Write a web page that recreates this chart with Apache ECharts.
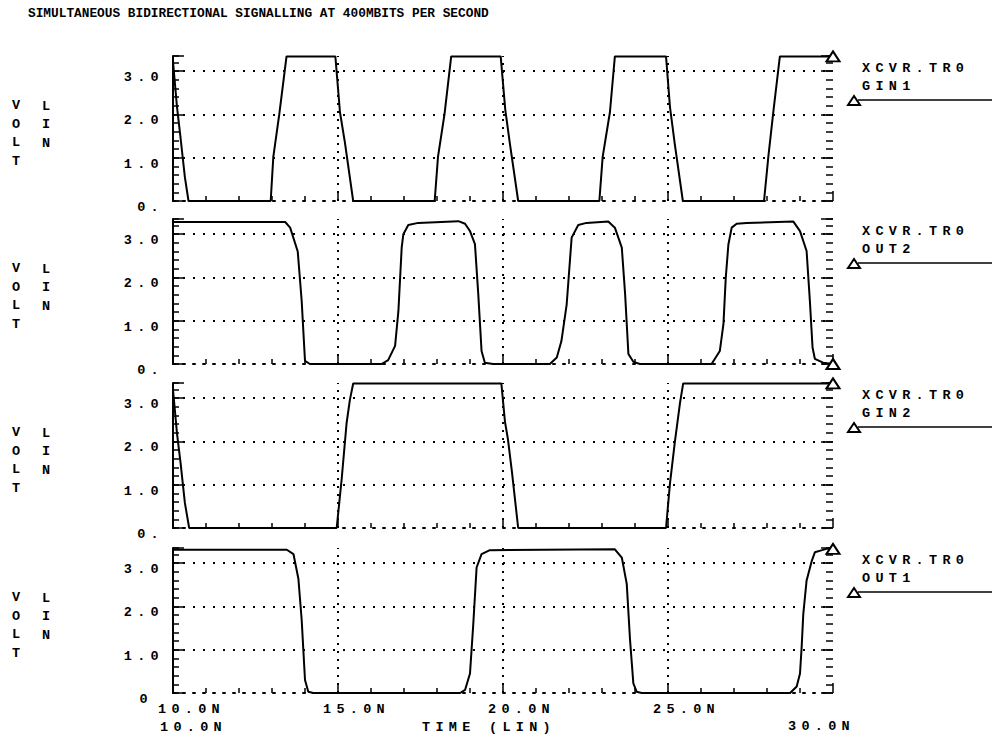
<!DOCTYPE html>
<html>
<head>
<meta charset="utf-8">
<script src="https://cdn.jsdelivr.net/npm/echarts@6/dist/echarts.min.js"></script>
<style>
html,body{margin:0;padding:0;background:#fff;}
#chart{width:992px;height:736px;}
/* plotter-style wide character spacing for axis/annotation text */
#chart text[style*="13.5px"]{letter-spacing:5.3px;}
</style>
</head>
<body>
<div id="chart"></div>
<script>
// ---------------- data ----------------
const chartTitle = 'SIMULTANEOUS BIDIRECTIONAL SIGNALLING AT 400MBITS PER SECOND';
const nodePrefix = 'XCVR.TR0';
const seriesNames = ['GIN1', 'OUT2', 'GIN2', 'OUT1'];
const timeRange = [10, 30];            // ns
const timeTickValues = [10, 15, 20, 25];
const timeTickLabels = ['10.0N', '15.0N', '20.0N', '25.0N'];
const timeEndLabels = ['10.0N', '30.0N'];
const timeTitle = 'TIME (LIN)';
const voltTickValues = [0, 1, 2, 3];
const voltTickLabels = ['0.', '1.0', '2.0', '3.0'];
const voltTickLabelsBottom = ['0', '1.0', '2.0', '3.0'];
const voltUnit = 'VOLT';
const voltScale = 'LIN';
const voltMax = 3.35;
const gridVolts = [1, 2, 3];
const gridTimes = [15, 20, 25];

const gin1T = [10.0, 10.12, 10.23, 10.36, 10.47, 12.96, 13.04, 13.22, 13.44, 14.92, 15.06, 15.21, 15.46,
  17.93, 18.03, 18.23, 18.43, 19.93, 20.07, 20.21, 20.46, 22.92, 23.02, 23.24, 23.39, 24.94, 25.06, 25.21, 25.45,
  27.91, 28.04, 28.19, 28.39, 30.0];
const gin1V = [3.22, 2.18, 1.45, 0.55, 0, 0, 1.02, 2.0, 3.34, 3.34, 2.05, 1.35, 0,
  0, 1.02, 2.02, 3.34, 3.34, 2.1, 1.32, 0, 0, 1.02, 2.05, 3.34, 3.34, 2.17, 1.29, 0,
  0, 1.02, 2.05, 3.34, 3.34];

const out2T = [10.0, 13.4, 13.55, 13.78, 13.9, 14.0, 14.15, 16.32, 16.52, 16.73, 16.83, 16.93, 16.98, 17.13, 17.43,
  18.65, 18.85, 19.0, 19.15, 19.25, 19.35, 19.45, 19.7, 21.42, 21.63, 21.77, 21.93, 22.08, 22.28, 22.53,
  23.19, 23.39, 23.6, 23.7, 23.8, 23.95, 24.15, 26.32, 26.57, 26.68, 26.75, 26.83, 26.93, 27.08, 27.38,
  28.8, 29.0, 29.2, 29.3, 29.38, 29.45, 29.7, 30.0];
const out2V = [3.28, 3.28, 3.15, 2.6, 1.45, 0.07, 0, 0, 0.09, 0.42, 1.22, 2.69, 3.0, 3.21, 3.26,
  3.3, 3.24, 3.07, 2.77, 1.62, 0.3, 0.03, 0, 0, 0.15, 0.53, 1.38, 2.92, 3.21, 3.26,
  3.29, 3.15, 2.69, 1.62, 0.23, 0.05, 0, 0, 0.3, 0.92, 1.99, 2.76, 3.15, 3.24, 3.26,
  3.29, 3.07, 2.61, 1.45, 0.38, 0.12, 0.03, 0];

const gin2T = [10.0, 10.12, 10.23, 10.36, 10.49, 14.96, 15.11, 15.26, 15.36, 15.46,
  19.95, 20.06, 20.15, 20.27, 20.46, 24.94, 25.06, 25.21, 25.36, 25.46, 30.0];
const gin2V = [3.2, 2.19, 1.5, 0.58, 0, 0, 1.12, 2.42, 2.96, 3.34,
  3.34, 2.45, 2.05, 1.3, 0, 0, 1.03, 2.0, 2.87, 3.34, 3.34];

const out1T = [10.0, 13.45, 13.65, 13.8, 13.9, 14.0, 14.1, 14.25, 18.7, 18.85, 19.0, 19.1, 19.2, 19.35, 19.6,
  23.39, 23.6, 23.75, 23.85, 23.95, 24.05, 24.2, 28.7, 28.9, 29.0, 29.05, 29.1, 29.2, 29.36, 29.45, 29.67, 29.8, 30.0];
const out1V = [3.31, 3.31, 3.21, 2.64, 1.68, 0.3, 0.03, 0, 0, 0.07, 0.45, 1.6, 2.9, 3.21, 3.3,
  3.32, 3.13, 2.52, 1.22, 0.22, 0.03, 0, 0, 0.15, 0.45, 1.06, 1.83, 2.6, 3.06, 3.25, 3.3, 3.33, 3.33];

// ---------------- layout / style ----------------
const FONT = "'Liberation Mono', 'DejaVu Sans Mono', monospace";
const WIDE = 13.5;
const gridLeft = 173, gridRight = 159, gridH = 145;
const gridTops = [56, 219, 383, 548];
const W = 992;

const panels = [
  { name: seriesNames[0], t: gin1T, v: gin1V },
  { name: seriesNames[1], t: out2T, v: out2V },
  { name: seriesNames[2], t: gin2T, v: gin2V },
  { name: seriesNames[3], t: out1T, v: out1V }
];
const zip = (t, v) => t.map((x, i) => [x, v[i]]);
const BLACK = '#000';
const wideFont = { fontFamily: FONT, fontSize: WIDE, fontWeight: 'bold', color: BLACK };

const grids = gridTops.map(top => ({
  left: gridLeft, right: gridRight, top: top, height: gridH,
  containLabel: false, outerBoundsMode: 'none'
}));

const xAxes = gridTops.map((_, i) => {
  const last = i === gridTops.length - 1;
  return {
    type: 'value', gridIndex: i, min: timeRange[0], max: timeRange[1], interval: 5,
    axisLine: { show: true, onZero: false, lineStyle: { color: BLACK, width: 2, type: [2, 8] } },
    axisTick: { show: true, inside: true, length: 10, lineStyle: { color: BLACK, width: 1.5 } },
    minorTick: { show: true, splitNumber: 5, length: 5, lineStyle: { color: BLACK, width: 1.5 } },
    splitLine: { show: false },
    axisLabel: last ? Object.assign({
      show: true, margin: 9, align: 'left', padding: [0, 0, 0, -15],
      showMinLabel: true, showMaxLabel: true,
      formatter: v => { const k = timeTickValues.indexOf(v); return k >= 0 ? timeTickLabels[k] : ''; }
    }, wideFont) : { show: false },
    name: last ? timeTitle : '',
    nameLocation: 'middle', nameGap: 27,
    nameTextStyle: Object.assign({ padding: [0, 28, 0, 0] }, wideFont)
  };
});

const yAxes = [];
gridTops.forEach((_, i) => {
  const bottomPanel = i === gridTops.length - 1;
  const labels = bottomPanel ? voltTickLabelsBottom : voltTickLabels;
  const base = { type: 'value', gridIndex: i, min: 0, max: voltMax, splitLine: { show: false } };
  // left major
  yAxes.push(Object.assign({}, base, {
    position: 'left', interval: 1,
    axisLine: { show: true, onZero: false, lineStyle: { color: BLACK, width: 2 } },
    axisTick: { show: true, inside: true, length: 11, lineStyle: { color: BLACK, width: 1.5 } },
    axisLabel: Object.assign({
      show: true, margin: 9, verticalAlign: 'top', lineHeight: 13,
      showMinLabel: true, showMaxLabel: true,
      rich: { z: Object.assign({ padding: [0, 11, 0, 0], lineHeight: 13 }, wideFont) },
      formatter: v => {
        const k = voltTickValues.indexOf(v);
        if (k < 0) return '';
        return (bottomPanel && k === 0) ? '{z|' + labels[k] + '}' : labels[k];
      }
    }, wideFont)
  }));
  // left minor
  yAxes.push(Object.assign({}, base, {
    position: 'left', interval: 0.2,
    axisLine: { show: false, onZero: false },
    axisTick: { show: true, inside: true, length: 6, lineStyle: { color: BLACK, width: 1.5 } },
    axisLabel: { show: false }
  }));
  // right major
  yAxes.push(Object.assign({}, base, {
    position: 'right', interval: 1,
    axisLine: { show: false, onZero: false },
    axisTick: { show: true, inside: true, length: 12, lineStyle: { color: BLACK, width: 1.5 } },
    axisLabel: { show: false }
  }));
  // right minor
  yAxes.push(Object.assign({}, base, {
    position: 'right', interval: 0.2,
    axisLine: { show: false, onZero: false },
    axisTick: { show: true, inside: true, length: 7, lineStyle: { color: BLACK, width: 1.5 } },
    axisLabel: { show: false }
  }));
});

const series = panels.map((p, i) => {
  const data = zip(p.t, p.v);
  return {
    type: 'line', name: nodePrefix + ' ' + p.name,
    xAxisIndex: i, yAxisIndex: 4 * i,
    data: data, symbol: 'none', silent: true, animation: false,
    lineStyle: { color: BLACK, width: 2 },
    markLine: {
      silent: true, animation: false, symbol: ['none', 'none'], label: { show: false },
      lineStyle: { color: BLACK, width: 2, type: [2, 8] },
      emphasis: { disabled: true },
      data: gridVolts.map(y => ({ yAxis: y }))
        .concat(gridTimes.map(x => ({ xAxis: x, lineStyle: { color: BLACK, width: 2, type: [2, 6] } })))
    },
    markPoint: {
      silent: true, animation: false, symbol: 'triangle', symbolSize: [13, 10],
      itemStyle: { color: '#fff', borderColor: BLACK, borderWidth: 2 },
      label: { show: false },
      data: [{ coord: data[data.length - 1] }]
    }
  };
});

const graphics = [];
const txt = (x, y, text, extra) => ({
  type: 'text', x: x, y: y, silent: true,
  style: Object.assign({ text: text, fill: BLACK, fontFamily: FONT, fontSize: WIDE, fontWeight: 'bold',
    align: 'left', verticalAlign: 'middle' }, extra || {})
});
panels.forEach((p, i) => {
  const top = gridTops[i];
  const mid = top + gridH / 2 + 5;
  graphics.push(txt(12, mid, voltUnit.split('').join('\n'), { lineHeight: 18.5 }));
  graphics.push(txt(42, mid - 9, voltScale.split('').join('\n'), { lineHeight: 18.5 }));
  graphics.push(txt(862, top + 12, nodePrefix));
  graphics.push(txt(862, top + 30, p.name));
  graphics.push({ type: 'line', silent: true, shape: { x1: 858, y1: top + 44, x2: W, y2: top + 44 },
    style: { stroke: BLACK, lineWidth: 1.5 } });
  graphics.push({ type: 'polygon', silent: true,
    shape: { points: [[848, top + 49], [854, top + 40], [860, top + 49]] },
    style: { fill: '#fff', stroke: BLACK, lineWidth: 2 } });
});
graphics.push(txt(gridLeft - 13, 727, timeEndLabels[0]));
graphics.push(txt(W - gridRight - 45, 726, timeEndLabels[1]));

const chart = echarts.init(document.getElementById('chart'), null, { renderer: 'svg' });
chart.setOption({
  backgroundColor: '#fff',
  animation: false,
  title: {
    text: chartTitle, left: 28, top: 7, padding: 0,
    textStyle: { fontFamily: FONT, fontSize: 12.8, fontWeight: 'bold', color: BLACK }
  },
  grid: grids,
  xAxis: xAxes,
  yAxis: yAxes,
  series: series,
  graphic: graphics
});
</script>
</body>
</html>
